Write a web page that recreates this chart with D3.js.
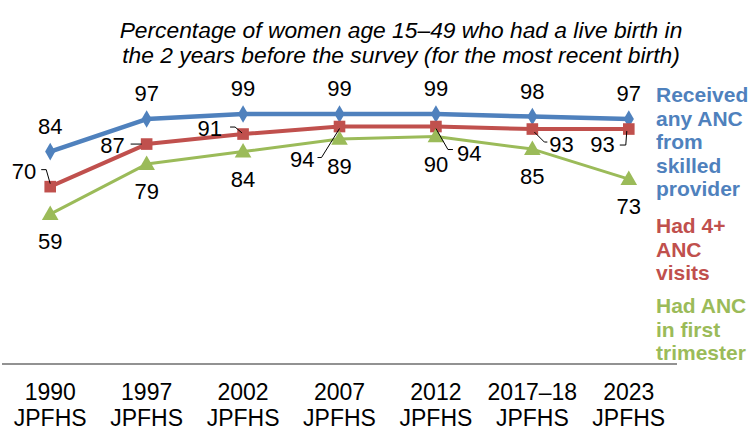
<!DOCTYPE html>
<html><head><meta charset="utf-8">
<script src="https://cdn.jsdelivr.net/npm/d3@7"></script>
<style>
html,body{margin:0;padding:0;background:#fff;}
svg{display:block;font-family:"Liberation Sans",Arial,sans-serif;}
</style></head>
<body>
<svg id="chart" width="753" height="430"></svg>
<script>
const categories = ["1990|JPFHS","1997|JPFHS","2002|JPFHS","2007|JPFHS","2012|JPFHS","2017–18|JPFHS","2023|JPFHS"];
const anyANC = [84, 97, 99, 99, 99, 98, 97];
const anc4 = [70, 87, 91, 94, 94, 93, 93];
const firstTrimester = [59, 79, 84, 89, 90, 85, 73];
const seriesNames = ["Received|any ANC|from|skilled|provider", "Had 4+|ANC|visits", "Had ANC|in first|trimester"];
const titleLines = ["Percentage of women age 15–49 who had a live birth in", "the 2 years before the survey (for the most recent birth)"];

const colors = ["#4F81BD", "#C0504D", "#9BBB59"];
const svg = d3.select("#chart");

const x = d3.scaleBand().domain(categories).range([2, 677]).padding(0);
const cx = c => x(c) + x.bandwidth() / 2;
const y = d3.scaleLinear().domain([0, 100]).range([362, 111.5]);

// title
svg.append("g").selectAll("text").data(titleLines).join("text")
  .attr("x", 401).attr("y", (d, i) => 38 + i * 25)
  .attr("text-anchor", "middle").attr("font-style", "italic")
  .attr("font-size", 22.8).attr("fill", "#000").text(d => d);

// x axis line
svg.append("line").attr("x1", 2).attr("x2", 677)
  .attr("y1", y(0) + 2).attr("y2", y(0) + 2)
  .attr("stroke", "#6e6e6e").attr("stroke-width", 1.5);

// x axis labels
const xl = svg.append("g").selectAll("text").data(categories).join("text")
  .attr("text-anchor", "middle").attr("font-size", 23).attr("fill", "#000");
xl.each(function(d) {
  const parts = d.split("|");
  d3.select(this).selectAll("tspan").data(parts).join("tspan")
    .attr("x", cx(d)).attr("y", (p, i) => 400 + i * 25.5).text(p => p);
});

const series = [anyANC, anc4, firstTrimester];
const widths = [4.5, 4, 3];
const line = d3.line().x((d, i) => cx(categories[i])).y(d => y(d));

series.forEach((s, k) => {
  svg.append("path").datum(s).attr("d", line)
    .attr("fill", "none").attr("stroke", colors[k]).attr("stroke-width", widths[k])
    .attr("stroke-linejoin", "round");
});

// markers
const sym = [d3.symbolDiamond, d3.symbolSquare, d3.symbolTriangle];
const sizes = [90, 135, 120];
series.forEach((s, k) => {
  svg.append("g").selectAll("path").data(s).join("path")
    .attr("d", d3.symbol(sym[k], sizes[k]))
    .attr("transform", (d, i) => `translate(${cx(categories[i])},${y(d) + (k === 2 ? 1 : 0)})`)
    .attr("fill", colors[k]);
});

// data labels
svg.append("g").selectAll("text").data(anyANC).join("text")
  .attr("x", (d, i) => cx(categories[i])).attr("y", d => y(d) - 18)
  .attr("text-anchor", "middle").attr("font-size", 22).text(d => d);
svg.append("g").selectAll("text").data(firstTrimester).join("text")
  .attr("x", (d, i) => cx(categories[i])).attr("y", d => y(d) + 35)
  .attr("text-anchor", "middle").attr("font-size", 22).text(d => d);
const redPlace = [
  {dx: -14, dy: -8, a: "end", lead: [[-9,-17],[-4,-17],[0,-3]]},
  {dx: -22, dy: 9, a: "end", lead: [[-16,0],[-5,0]]},
  {dx: -21, dy: 2, a: "end", lead: [[-13,-7],[-8,-7],[-1,-1]]},
  {dx: -25, dy: 40, a: "end", lead: [[-22,31],[-18,31],[0,2]]},
  {dx: 21, dy: 34, a: "start", lead: [[0,2],[12,23],[17,23]]},
  {dx: 17, dy: 23, a: "start", lead: [[2,3],[12,13],[15,13]]},
  {dx: -14, dy: 23, a: "end", lead: [[-2,2],[-3,16],[-9,16]]}
];
const rg = svg.append("g");
anc4.forEach((v, i) => {
  const px = cx(categories[i]), py = y(v), p = redPlace[i];
  rg.append("path")
    .attr("d", d3.line()(p.lead.map(q => [px + q[0], py + q[1]])))
    .attr("fill", "none").attr("stroke", "#000").attr("stroke-width", 1);
  rg.append("text").attr("x", px + p.dx).attr("y", py + p.dy)
    .attr("text-anchor", p.a).attr("font-size", 22).text(v);
});

// legend
const legendStart = [102, 233, 313];
seriesNames.forEach((n, k) => {
  const t = svg.append("text").attr("font-size", 21).attr("font-weight", "bold")
    .attr("fill", colors[k]);
  n.split("|").forEach((p, i) => {
    t.append("tspan").attr("x", 656).attr("y", legendStart[k] + i * 23.5).text(p);
  });
});
</script>
</body></html>
